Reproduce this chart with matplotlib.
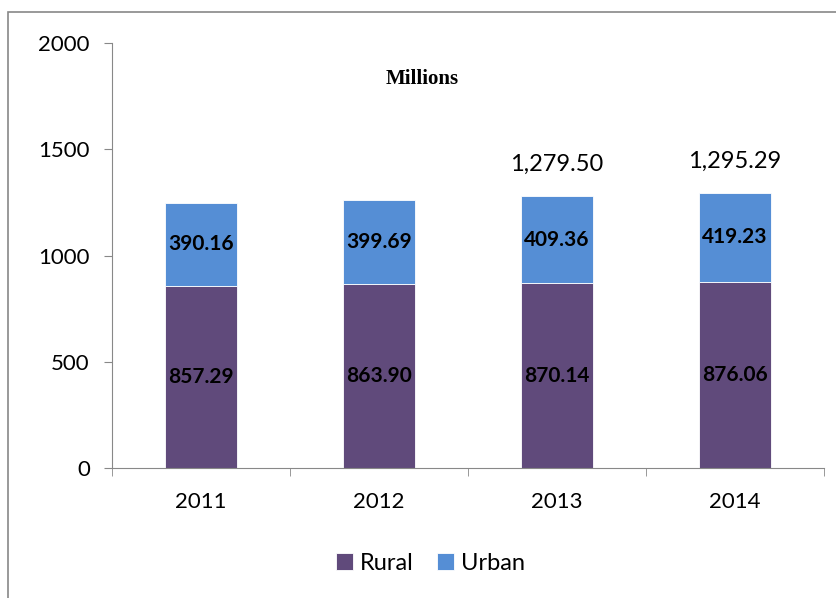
import matplotlib.pyplot as plt
from matplotlib.patches import Rectangle

years = ["2011", "2012", "2013", "2014"]
rural = [857.29, 863.90, 870.14, 876.06]
urban = [390.16, 399.69, 409.36, 419.23]
totals = {"2013": "1,279.50", "2014": "1,295.29"}

plt.rcParams["font.family"] = ["Lato", "DejaVu Sans"]

fig = plt.figure(figsize=(8.36, 5.98), dpi=100)
ax = fig.add_axes([0.134, 0.2174, 0.8516, 0.7106])

c_rural = "#604A7B"
c_urban = "#558ED5"
x = range(len(years))

b1 = ax.bar(x, rural, width=0.4, color=c_rural, edgecolor="white", linewidth=0.6, label="Rural")
b2 = ax.bar(x, urban, width=0.4, bottom=rural, color=c_urban, edgecolor="white", linewidth=0.6, label="Urban")

for i in x:
    ax.text(i, rural[i] / 2, f"{rural[i]:.2f}", ha="center", va="center",
            fontsize=15, fontweight="bold", color="black")
    ax.text(i, rural[i] + urban[i] / 2, f"{urban[i]:.2f}", ha="center", va="center",
            fontsize=15, fontweight="bold", color="black")
    if years[i] in totals:
        ax.text(i, rural[i] + urban[i] + 150, totals[years[i]], ha="center", va="center",
                fontsize=17, color="black")

ax.set_xlim(-0.5, 3.5)
ax.set_ylim(0, 2000)
ax.set_yticks([0, 500, 1000, 1500, 2000])
ax.set_xticks(list(x))
ax.set_xticklabels(years)
ax.set_xticks([0.5, 1.5, 2.5, 3.5, -0.5], minor=True)
ax.tick_params(axis="x", which="major", length=0, pad=17, labelsize=16)
ax.tick_params(axis="x", which="minor", length=6, color="#888888")
ax.tick_params(axis="y", length=6, color="#888888", pad=10, labelsize=16)

for s in ["top", "right"]:
    ax.spines[s].set_visible(False)
ax.spines["left"].set_color("#888888")
ax.spines["bottom"].set_color("#888888")

ax.text(0.435, 0.915, "Millions", transform=ax.transAxes, ha="center", va="center",
        fontsize=15, fontweight="bold", family="Liberation Serif")

fig.legend(handles=[b1, b2], labels=["Rural", "Urban"], loc="center",
           bbox_to_anchor=(0.515, 0.058), ncol=2, frameon=False, fontsize=17,
           handlelength=0.7, handleheight=0.7, handletextpad=0.3, columnspacing=1.0)

# outer chart border
fig.patches.append(Rectangle((0.0096, -0.5), 2, 1.5 - 12 / 598, transform=fig.transFigure,
                             fill=False, edgecolor="#888888", linewidth=1.2))

fig.savefig("out.png", dpi=100)
